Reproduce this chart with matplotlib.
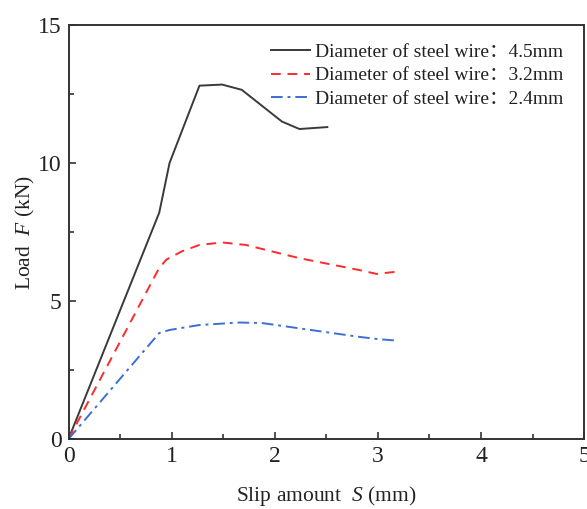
import matplotlib
matplotlib.use("Agg")
import matplotlib.pyplot as plt
from matplotlib.ticker import MultipleLocator

plt.rcParams['font.family'] = ['Liberation Serif', 'Noto Sans CJK SC']
plt.rcParams['mathtext.fontset'] = 'custom'
plt.rcParams['mathtext.it'] = 'Liberation Serif:italic'
plt.rcParams['mathtext.rm'] = 'Liberation Serif'

# Load-slip curves for three steel wire diameters
slip_45 = [0.0, 0.88, 0.98, 1.13, 1.27, 1.49, 1.68, 2.07, 2.24, 2.51]
load_45 = [0.0, 8.2, 10.0, 11.45, 12.8, 12.84, 12.65, 11.5, 11.23, 11.3]

slip_32 = [0.0, 0.88, 0.95, 1.10, 1.27, 1.49, 1.72, 2.24, 2.82, 2.99, 3.2]
load_32 = [0.0, 6.2, 6.5, 6.8, 7.03, 7.12, 7.03, 6.55, 6.12, 5.98, 6.07]

slip_24 = [0.0, 0.88, 0.98, 1.27, 1.66, 1.88, 2.82, 3.0, 3.2]
load_24 = [0.0, 3.84, 3.95, 4.13, 4.22, 4.2, 3.7, 3.62, 3.56]

labels = ['Diameter of steel wire：4.5mm',
          'Diameter of steel wire：3.2mm',
          'Diameter of steel wire：2.4mm']

fig = plt.figure(figsize=(5.87, 5.09), dpi=100)
ax = fig.add_axes([0.1167, 0.1375, 0.8783, 0.8135])

ax.plot(slip_45, load_45, color='#3a3a3a', lw=1.4, ls='-', label=labels[0])
ax.plot(slip_32, load_32, color='#ff2a2a', lw=1.4, ls=(0, (5, 3.5)), label=labels[1])
ax.plot(slip_24, load_24, color='#3b6fd4', lw=1.4, ls=(0, (6, 2.5, 1.5, 2.5)), label=labels[2])

ax.set_xlim(0, 5)
ax.set_ylim(0, 15)
ax.xaxis.set_major_locator(MultipleLocator(1))
ax.xaxis.set_minor_locator(MultipleLocator(0.5))
ax.yaxis.set_major_locator(MultipleLocator(5))
ax.yaxis.set_minor_locator(MultipleLocator(2.5))
ax.tick_params(which='both', direction='in', labelsize=17, width=1.2, colors='#333333',
               labelcolor='#222222', pad=5)
ax.tick_params(which='major', length=5)
ax.tick_params(which='minor', length=3.5)
for s in ax.spines.values():
    s.set_linewidth(1.4)
    s.set_color('#333333')

ax.set_xlabel(r'Slip amount  $S$ (mm)', fontsize=15.5, color='#222222', labelpad=12)
ax.set_ylabel(r'Load  $F$ (kN)', fontsize=15.5, color='#222222', labelpad=1)

leg = ax.legend(loc='upper right', frameon=False, fontsize=14, handlelength=2.0,
                handletextpad=0.25, labelspacing=0.3, borderaxespad=0.55,
                bbox_to_anchor=(0.995, 1.0))
for t in leg.get_texts():
    t.set_color('#222222')

fig.savefig('out.png', dpi=100)
